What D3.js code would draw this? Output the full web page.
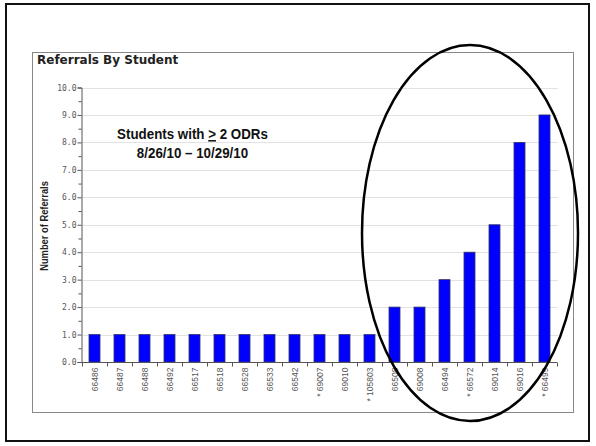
<!DOCTYPE html>
<html>
<head>
<meta charset="utf-8">
<script src="https://cdn.jsdelivr.net/npm/d3@7"></script>
<style>
  html, body { margin: 0; padding: 0; background: #fff; }
  svg { display: block; }
</style>
</head>
<body>
<svg id="chart" width="596" height="446"></svg>
<script>
// Referral counts per student ID
const students = ["66486", "66487", "66488", "66492", "66517", "66518", "66528", "66533", "66542",
  "* 69007", "69010", "* 105803", "66508", "69008", "66494", "* 66572", "69014", "69016", "* 66499"];
const referrals = [1, 1, 1, 1, 1, 1, 1, 1, 1, 1, 1, 1, 2, 2, 3, 4, 5, 8, 9];
const yTicks = [0, 1, 2, 3, 4, 5, 6, 7, 8, 9, 10];

const svg = d3.select("#chart");

// outer slide frame
svg.append("rect").attr("x", 6).attr("y", 4).attr("width", 583).attr("height", 437)
  .attr("fill", "#fff").attr("stroke", "#111").attr("stroke-width", 2);

// chart panel
svg.append("rect").attr("x", 32.5).attr("y", 52.5).attr("width", 541).attr("height", 360)
  .attr("fill", "#fff").attr("stroke", "#888").attr("stroke-width", 1);

svg.append("text").attr("x", 37).attr("y", 63.5)
  .attr("font-family", "DejaVu Sans, Verdana, sans-serif").attr("font-weight", "bold")
  .attr("font-size", 12).attr("fill", "#222").text("Referrals By Student");

const x = d3.scaleBand().domain(students).range([82, 557]).paddingInner(0.56).paddingOuter(0.28);
const y = d3.scaleLinear().domain([0, 10]).range([362, 87.5]);

// horizontal gridlines
svg.append("g").selectAll("line").data(yTicks.slice(1)).join("line")
  .attr("x1", 82).attr("x2", 558)
  .attr("y1", d => Math.round(y(d)) + 0.5).attr("y2", d => Math.round(y(d)) + 0.5)
  .attr("stroke", "#e2e2e2").attr("stroke-width", 1);

// bars
svg.append("g").selectAll("rect").data(referrals).join("rect")
  .attr("x", (d, i) => x(students[i]))
  .attr("y", d => y(d))
  .attr("width", x.bandwidth())
  .attr("height", d => y(0) - y(d))
  .attr("fill", "#0000ff").attr("stroke", "#333366").attr("stroke-width", 0.8);

// y axis with minor half-unit ticks
const yAxis = svg.append("g").attr("transform", "translate(81.5,0)")
  .call(d3.axisLeft(y).tickValues(yTicks).tickFormat(d3.format(".1f")).tickSize(4).tickPadding(1));
svg.append("g").attr("transform", "translate(81.5,0)")
  .call(d3.axisLeft(y).tickValues(d3.range(0.5, 10, 1)).tickFormat("").tickSize(3))
  .select(".domain").remove();
yAxis.selectAll("text").attr("font-family", "DejaVu Sans Mono, monospace").attr("font-size", 8).attr("fill", "#555");
svg.selectAll(".tick line").attr("stroke", "#555");
yAxis.select(".domain").attr("stroke", "#555");

// x axis: ticks on category boundaries
const xAxisG = svg.append("g").attr("transform", "translate(0,362.5)");
xAxisG.append("line").attr("x1", 81).attr("x2", 557).attr("stroke", "#555");
const step = x.step();
xAxisG.selectAll("line.tk").data(d3.range(students.length + 1)).join("line").attr("class", "tk")
  .attr("x1", i => Math.round(82 + i * step) + 0.5).attr("x2", i => Math.round(82 + i * step) + 0.5)
  .attr("y1", 0).attr("y2", 4).attr("stroke", "#555");
xAxisG.selectAll("text").data(students).join("text")
  .attr("transform", d => `translate(${x(d) + x.bandwidth() / 2 + 3},5) rotate(-90)`)
  .attr("text-anchor", "end")
  .attr("font-family", "Liberation Sans, Arial, sans-serif").attr("font-size", 8.5)
  .attr("fill", "#555").text(d => d);

// y axis title (condensed)
svg.append("g").attr("transform", "translate(48,226) rotate(-90) scale(0.85,1)")
  .append("text").attr("text-anchor", "middle")
  .attr("font-family", "Liberation Sans, Arial, sans-serif").attr("font-weight", "bold")
  .attr("font-size", 11).attr("fill", "#222").text("Number of Referrals");

// annotation (condensed)
const note = svg.append("g").attr("transform", "translate(192.5,0) scale(0.89,1)")
  .append("text").attr("text-anchor", "middle")
  .attr("font-family", "Liberation Sans, Arial, sans-serif").attr("font-weight", "bold")
  .attr("font-size", 15).attr("fill", "#111");
const l1 = note.append("tspan").attr("x", 0).attr("y", 139);
l1.append("tspan").text("Students with ");
l1.append("tspan").attr("text-decoration", "underline").text(">");
l1.append("tspan").text(" 2 ODRs");
note.append("tspan").attr("x", 0).attr("y", 158).text("8/26/10 \u2013 10/29/10");

// highlight ellipse around the top referrers
svg.append("ellipse").attr("cx", 470).attr("cy", 233).attr("rx", 108).attr("ry", 188)
  .attr("fill", "none").attr("stroke", "#000").attr("stroke-width", 2.5);
</script>
</body>
</html>
